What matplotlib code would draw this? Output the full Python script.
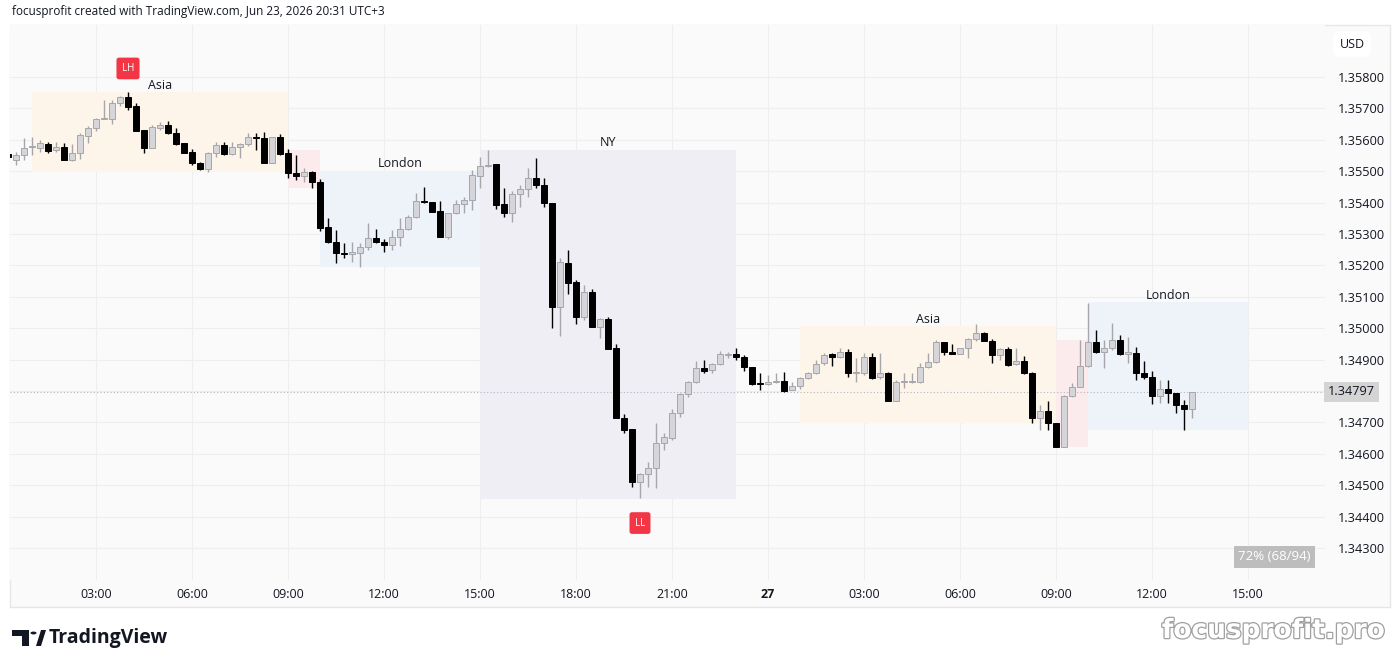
import numpy as np
import matplotlib.pyplot as plt
from matplotlib.patches import Rectangle, Circle, Polygon
import matplotlib.patheffects as pe

# 15 minute candles, first one opens at 00:15 of day 1
start_hour = 0.25
step_hour = 0.25

opens = [1.35555, 1.35536, 1.35552, 1.35577, 1.35574, 1.35587, 1.35568, 1.35577, 1.35536, 1.35558,
         1.35612, 1.35638, 1.35666, 1.35666, 1.35717, 1.35736, 1.35708, 1.35631, 1.35574, 1.35638,
         1.35647, 1.35622, 1.35590, 1.35561, 1.35526, 1.35507, 1.35558, 1.35583, 1.35555, 1.35577,
         1.35587, 1.35609, 1.35606, 1.35526, 1.35609, 1.35558, 1.35494, 1.35485, 1.35497, 1.35466,
         1.35322, 1.35275, 1.35239, 1.35236, 1.35239, 1.35259, 1.35287, 1.35275, 1.35265, 1.35290,
         1.35316, 1.35354, 1.35405, 1.35402, 1.35373, 1.35290, 1.35367, 1.35396, 1.35408, 1.35485,
         1.35517, 1.35523, 1.35396, 1.35367, 1.35427, 1.35443, 1.35478, 1.35456, 1.35399, 1.35068,
         1.35208, 1.35147, 1.35036, 1.35115, 1.35004, 1.35029, 1.34937, 1.34714, 1.34679, 1.34510,
         1.34536, 1.34555, 1.34634, 1.34650, 1.34730, 1.34790, 1.34829, 1.34873, 1.34867, 1.34886,
         1.34915, 1.34918, 1.34908, 1.34876, 1.34826, 1.34822, 1.34829, 1.34832, 1.34803, 1.34816,
         1.34841, 1.34857, 1.34889, 1.34918, 1.34908, 1.34924, 1.34857, 1.34857, 1.34908, 1.34845,
         1.34857, 1.34768, 1.34829, 1.34829, 1.34829, 1.34876, 1.34892, 1.34956, 1.34924, 1.34918,
         1.34937, 1.34966, 1.34985, 1.34959, 1.34915, 1.34934, 1.34886, 1.34896, 1.34857, 1.34714,
         1.34736, 1.34698, 1.34622, 1.34784, 1.34813, 1.34880, 1.34956, 1.34924, 1.34937, 1.34962,
         1.34918, 1.34921, 1.34857, 1.34845, 1.34784, 1.34806, 1.34794, 1.34755, 1.34743]
highs = [1.35561, 1.35561, 1.35606, 1.35609, 1.35599, 1.35593, 1.35593, 1.35590, 1.35587, 1.35622,
         1.35644, 1.35669, 1.35727, 1.35727, 1.35739, 1.35752, 1.35717, 1.35631, 1.35647, 1.35657,
         1.35660, 1.35638, 1.35590, 1.35571, 1.35529, 1.35561, 1.35593, 1.35593, 1.35593, 1.35590,
         1.35622, 1.35622, 1.35625, 1.35609, 1.35618, 1.35571, 1.35552, 1.35510, 1.35501, 1.35475,
         1.35351, 1.35313, 1.35271, 1.35275, 1.35271, 1.35335, 1.35316, 1.35284, 1.35313, 1.35351,
         1.35361, 1.35431, 1.35450, 1.35402, 1.35405, 1.35367, 1.35408, 1.35418, 1.35504, 1.35545,
         1.35568, 1.35523, 1.35446, 1.35437, 1.35456, 1.35510, 1.35542, 1.35478, 1.35399, 1.35224,
         1.35249, 1.35154, 1.35138, 1.35125, 1.35032, 1.35036, 1.34950, 1.34727, 1.34679, 1.34539,
         1.34574, 1.34698, 1.34666, 1.34743, 1.34794, 1.34832, 1.34896, 1.34899, 1.34889, 1.34927,
         1.34924, 1.34937, 1.34915, 1.34876, 1.34857, 1.34851, 1.34857, 1.34861, 1.34829, 1.34845,
         1.34861, 1.34899, 1.34921, 1.34921, 1.34937, 1.34934, 1.34905, 1.34921, 1.34921, 1.34921,
         1.34861, 1.34835, 1.34857, 1.34857, 1.34889, 1.34921, 1.34962, 1.34956, 1.34950, 1.34937,
         1.34969, 1.35013, 1.34988, 1.34966, 1.34937, 1.34940, 1.34937, 1.34911, 1.34861, 1.34755,
         1.34768, 1.34698, 1.34787, 1.34826, 1.34962, 1.35080, 1.34994, 1.34962, 1.35017, 1.34978,
         1.34972, 1.34940, 1.34896, 1.34864, 1.34835, 1.34835, 1.34794, 1.34771, 1.34797]
lows = [1.35539, 1.35520, 1.35536, 1.35552, 1.35561, 1.35558, 1.35561, 1.35536, 1.35533, 1.35539,
        1.35590, 1.35628, 1.35666, 1.35650, 1.35708, 1.35695, 1.35628, 1.35558, 1.35574, 1.35631,
        1.35618, 1.35583, 1.35558, 1.35520, 1.35504, 1.35497, 1.35545, 1.35552, 1.35552, 1.35542,
        1.35580, 1.35568, 1.35526, 1.35526, 1.35552, 1.35478, 1.35472, 1.35466, 1.35446, 1.35310,
        1.35271, 1.35208, 1.35224, 1.35211, 1.35195, 1.35249, 1.35271, 1.35243, 1.35249, 1.35262,
        1.35313, 1.35351, 1.35399, 1.35370, 1.35290, 1.35284, 1.35364, 1.35367, 1.35376, 1.35446,
        1.35513, 1.35380, 1.35354, 1.35338, 1.35386, 1.35418, 1.35446, 1.35386, 1.35001, 1.34975,
        1.35109, 1.35013, 1.35026, 1.35004, 1.34969, 1.34934, 1.34714, 1.34666, 1.34494, 1.34459,
        1.34494, 1.34491, 1.34612, 1.34644, 1.34717, 1.34781, 1.34826, 1.34857, 1.34857, 1.34883,
        1.34905, 1.34899, 1.34864, 1.34819, 1.34803, 1.34819, 1.34826, 1.34797, 1.34803, 1.34806,
        1.34838, 1.34854, 1.34883, 1.34880, 1.34905, 1.34845, 1.34829, 1.34851, 1.34838, 1.34838,
        1.34768, 1.34768, 1.34810, 1.34826, 1.34826, 1.34873, 1.34889, 1.34915, 1.34918, 1.34918,
        1.34905, 1.34959, 1.34959, 1.34889, 1.34899, 1.34880, 1.34883, 1.34854, 1.34698, 1.34676,
        1.34676, 1.34622, 1.34622, 1.34781, 1.34813, 1.34876, 1.34921, 1.34873, 1.34931, 1.34915,
        1.34889, 1.34835, 1.34838, 1.34759, 1.34762, 1.34762, 1.34730, 1.34676, 1.34714]
closes = [1.35545, 1.35552, 1.35574, 1.35580, 1.35590, 1.35564, 1.35577, 1.35536, 1.35558, 1.35615,
          1.35638, 1.35666, 1.35669, 1.35717, 1.35736, 1.35704, 1.35628, 1.35574, 1.35641, 1.35647,
          1.35622, 1.35587, 1.35558, 1.35526, 1.35507, 1.35558, 1.35583, 1.35555, 1.35577, 1.35587,
          1.35609, 1.35606, 1.35526, 1.35609, 1.35555, 1.35494, 1.35485, 1.35497, 1.35466, 1.35319,
          1.35275, 1.35239, 1.35236, 1.35243, 1.35259, 1.35287, 1.35275, 1.35265, 1.35290, 1.35316,
          1.35354, 1.35405, 1.35402, 1.35370, 1.35290, 1.35367, 1.35396, 1.35408, 1.35488, 1.35517,
          1.35520, 1.35392, 1.35367, 1.35427, 1.35443, 1.35478, 1.35456, 1.35399, 1.35068, 1.35211,
          1.35144, 1.35036, 1.35115, 1.35004, 1.35029, 1.34934, 1.34714, 1.34676, 1.34510, 1.34536,
          1.34555, 1.34634, 1.34654, 1.34730, 1.34790, 1.34829, 1.34873, 1.34864, 1.34886, 1.34918,
          1.34918, 1.34908, 1.34876, 1.34822, 1.34822, 1.34829, 1.34832, 1.34800, 1.34816, 1.34841,
          1.34857, 1.34886, 1.34915, 1.34908, 1.34924, 1.34857, 1.34861, 1.34908, 1.34841, 1.34857,
          1.34768, 1.34829, 1.34832, 1.34832, 1.34876, 1.34892, 1.34956, 1.34924, 1.34918, 1.34937,
          1.34966, 1.34985, 1.34959, 1.34915, 1.34934, 1.34883, 1.34896, 1.34857, 1.34714, 1.34736,
          1.34698, 1.34622, 1.34784, 1.34813, 1.34880, 1.34956, 1.34924, 1.34937, 1.34962, 1.34918,
          1.34924, 1.34857, 1.34845, 1.34784, 1.34806, 1.34794, 1.34755, 1.34743, 1.34797]

# session boxes (hours from day-1 midnight)
session_names = ['Asia', 'London', 'NY', 'Asia', 'London']
session_start = [1, 10, 15, 25, 34]
session_end = [9, 15, 23, 33, 39]
session_high = [1.35752, 1.35501, 1.35568, 1.35007, 1.35083]
session_low = [1.35497, 1.35195, 1.34456, 1.34698, 1.34676]
session_colors = ['#fdf5ea', '#edf3f9', '#eeeef4', '#fdf5ea', '#edf3f9']
# small pink boxes between Asia and London
gap_start = [9, 33]
gap_end = [10, 34]
gap_high = [1.35568, 1.34962]
gap_low = [1.35446, 1.34622]

last_price = 1.34797
tick_hours = [3, 6, 9, 12, 15, 18, 21, 24, 27, 30, 33, 36, 39]
tick_labels = ['03:00', '06:00', '09:00', '12:00', '15:00', '18:00', '21:00', '27',
               '03:00', '06:00', '09:00', '12:00', '15:00']
price_ticks = [1.343, 1.344, 1.345, 1.346, 1.347, 1.348, 1.349, 1.350,
               1.351, 1.352, 1.353, 1.354, 1.355, 1.356, 1.357, 1.358]

plt.rcParams['font.family'] = ['Open Sans', 'DejaVu Sans']

W, H = 1400, 668
fig = plt.figure(figsize=(14, 6.68), dpi=100)
fig.patch.set_facecolor('white')

# outer chart frame
fig.add_artist(Rectangle((10 / W, 1 - 607 / H), 1380 / W, 582 / H, transform=fig.transFigure,
                         facecolor='#fafafa', edgecolor='#e6e6e6', lw=1, zorder=0))

ax = fig.add_axes([10 / W, 1 - 580 / H, 1315 / W, 555 / H])
ax.set_facecolor('#fafafa')
ax.set_xlim(10 / 32, 1325 / 32)
ax.set_ylim(1.341980, 1.359656)
for s in ax.spines.values():
    s.set_visible(False)

# grid
for p in price_ticks:
    ax.axhline(p, color='#eeeeee', lw=0.8, zorder=0)
for h in tick_hours:
    ax.axvline(h, color='#eeeeee', lw=0.8, zorder=0)

# sessions
for i in range(len(session_names)):
    ax.add_patch(Rectangle((session_start[i], session_low[i]), session_end[i] - session_start[i],
                           session_high[i] - session_low[i], facecolor=session_colors[i],
                           edgecolor='none', zorder=1))
    ax.annotate(session_names[i], ((session_start[i] + session_end[i]) / 2, session_high[i]),
                xytext=(0, 2.5), textcoords='offset points', ha='center', va='baseline',
                fontsize=9, color='#131722', zorder=5)
for i in range(len(gap_start)):
    ax.add_patch(Rectangle((gap_start[i], gap_low[i]), gap_end[i] - gap_start[i],
                           gap_high[i] - gap_low[i], facecolor='#fcebed', edgecolor='none',
                           zorder=1))

# candles
o = np.array(opens)
hi = np.array(highs)
lo = np.array(lows)
c = np.array(closes)
t = start_hour + step_hour * np.arange(len(o))
up = c >= o
bottom = np.minimum(o, c)
height = np.maximum(np.abs(c - o), 0.000025)

ax.vlines(t[up], lo[up], hi[up], color='#a6a6ab', lw=1, zorder=2)
ax.vlines(t[~up], lo[~up], hi[~up], color='#000000', lw=1, zorder=2)
ax.bar(t[up], height[up], bottom=bottom[up], width=0.19, color='#d6d6da',
       edgecolor='#a6a6ab', linewidth=0.7, zorder=3)
ax.bar(t[~up], height[~up], bottom=bottom[~up], width=0.19, color='#000000',
       edgecolor='#000000', linewidth=0.7, zorder=3)

# LH / LL markers
i_lh = int(np.argmax(hi[:40]))
i_ll = int(np.argmin(lo))
ax.annotate('LH', (t[i_lh], hi[i_lh]), xytext=(0, 17), textcoords='offset points',
            ha='center', va='center', fontsize=7, color='white', zorder=6,
            bbox=dict(boxstyle='round,pad=0.55,rounding_size=0.25', fc='#f23645', ec='none'))
ax.annotate('LL', (t[i_ll], lo[i_ll]), xytext=(0, -18), textcoords='offset points',
            ha='center', va='center', fontsize=7, color='white', zorder=6,
            bbox=dict(boxstyle='round,pad=0.55,rounding_size=0.25', fc='#f23645', ec='none'))

# last price line
ax.axhline(last_price, color='#b2b5be', lw=0.8, ls=(0, (1, 2)), zorder=1)
ax.text(1.0025, last_price, '%.5f' % last_price, transform=ax.get_yaxis_transform(),
        ha='left', va='center', fontsize=9.2, color='#131722', clip_on=False,
        bbox=dict(boxstyle='square,pad=0.3', fc='#d4d4d4', ec='none'))

# win-rate box
ax.text(0.9615, 0.042, '72% (68/94)', transform=ax.transAxes, ha='center', va='center',
        fontsize=9.5, color='white', zorder=6,
        bbox=dict(boxstyle='square,pad=0.35', fc='#bdbdbd', ec='none'))

# axes ticks
ax.set_xticks(tick_hours)
ax.set_xticklabels(tick_labels, fontsize=9, color='#131722')
for lbl in ax.get_xticklabels():
    if lbl.get_text() == '27':
        lbl.set_fontweight('bold')
ax.tick_params(axis='x', length=0, pad=6)
ax.yaxis.tick_right()
ax.set_yticks([p for p in price_ticks if abs(p - 1.348) > 1e-9])
ax.set_yticklabels(['%.5f' % p for p in price_ticks if abs(p - 1.348) > 1e-9],
                   fontsize=9.2, color='#131722')
ax.tick_params(axis='y', length=0, pad=9)

# header and footer texts
fig.text(12 / W, 1 - 12 / H, 'focusprofit created with TradingView.com, Jun 23, 2026 20:31 UTC+3',
         fontsize=8.5, color='#131722', ha='left', va='center')
fig.text(1352 / W, 1 - 44 / H, 'USD', fontsize=9, color='#131722', ha='center', va='center',
         bbox=dict(boxstyle='round,pad=0.5', fc='white', ec='none'))

# TradingView logo
logo_t = [(12 / W, 1 - 630 / H), (29 / W, 1 - 630 / H), (29 / W, 1 - 646 / H),
          (22 / W, 1 - 646 / H), (22 / W, 1 - 636 / H), (12 / W, 1 - 636 / H)]
fig.add_artist(Polygon(logo_t, closed=True, transform=fig.transFigure, fc='#131722', ec='none'))
fig.add_artist(Circle((33.5 / W, 1 - 633 / H), 3 / W, transform=fig.transFigure,
                      fc='#131722', ec='none'))
fig.add_artist(Polygon([(36 / W, 1 - 646 / H), (41 / W, 1 - 630 / H), (46 / W, 1 - 630 / H),
                        (41 / W, 1 - 646 / H)], closed=True, transform=fig.transFigure,
                       fc='#131722', ec='none'))
fig.text(49 / W, 1 - 638 / H, 'TradingView', fontsize=14, fontweight='bold', color='#131722',
         ha='left', va='center')

# watermark
fig.text(1385 / W, 1 - 631 / H, 'focusprofit.pro', fontsize=19, fontweight='bold', color='white',
         ha='right', va='center', family=['DejaVu Sans'],
         path_effects=[pe.withStroke(linewidth=1.8, foreground='#a0a0a0')])

fig.savefig('out.png', dpi=100, facecolor='white')
